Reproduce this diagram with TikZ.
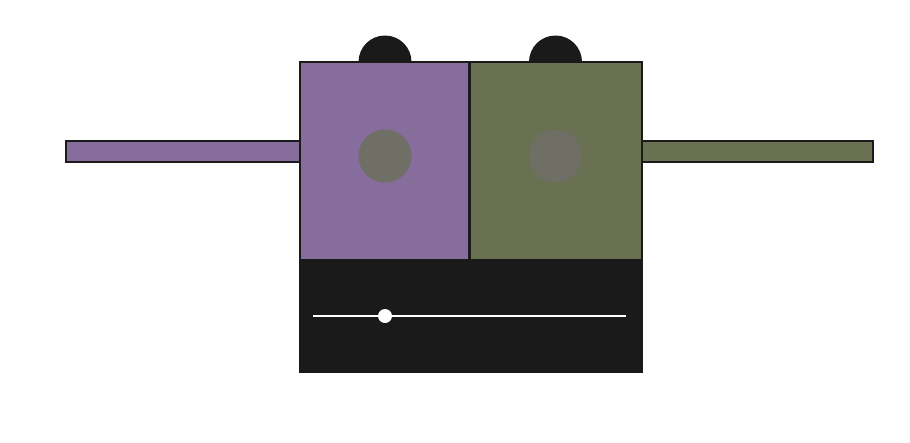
\documentclass[tikz,border=0pt]{standalone}
\definecolor{purp}{HTML}{876D9B}
\definecolor{olive}{HTML}{6A7052}
\definecolor{ink}{HTML}{1A1A1A}
\definecolor{dot}{HTML}{6F6F66}
\tikzset{
  part/.style={draw=ink, line width=2.5pt},
  knobcap/.style={fill=ink},
  eye/.style={fill=dot},
}
\begin{document}
\begin{tikzpicture}[x=1pt,y=-1pt]
\useasboundingbox (0,0) rectangle (910,442);
% side bars
\draw[part, fill=purp] (66,141) rectangle (300,162);
\draw[part, fill=olive] (642,141) rectangle (873,162);
% top caps
\fill[knobcap] (358.5,62) arc[start angle=180, end angle=360, radius=26.5] -- cycle;
\fill[knobcap] (529,62) arc[start angle=180, end angle=360, radius=26.5] -- cycle;
% boxes
\draw[part, fill=purp] (300,62) rectangle (469.5,260);
\draw[part, fill=olive] (469.5,62) rectangle (642,260);
% eyes
\fill[eye] (385,156) circle[radius=26.5];
\fill[eye] (555.5,156) circle[radius=26.5];
% bottom panel
\fill[ink] (299,259) rectangle (643,372.5);
% slider
\draw[white, line width=2.5pt] (313,316) -- (626,316);
\fill[white] (385,316) circle[radius=7];
\end{tikzpicture}
\end{document}
